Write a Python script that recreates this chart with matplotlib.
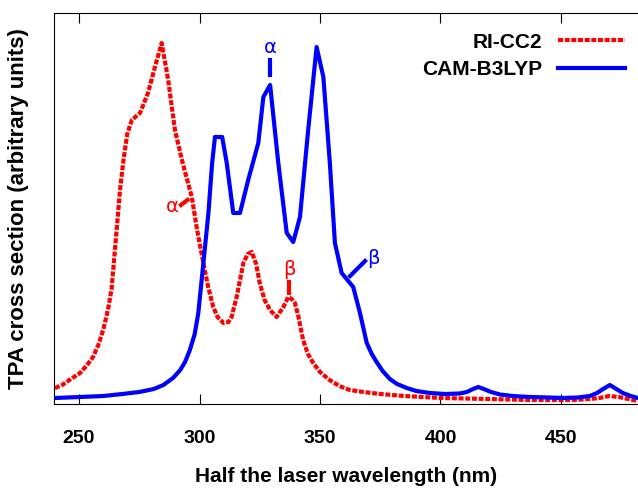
import matplotlib.pyplot as plt

# RI-CC2 spectrum (wavelength in nm, TPA cross section in arbitrary units)
ricc2_nm = [240, 243, 246, 250.4, 253, 255.8, 258, 260, 262, 263.5, 265, 267, 268.5,
            270, 271.9, 275.3, 278.6, 281.5, 284.3, 287, 289.8, 293, 296.8, 299,
            301.6, 303.5, 305.7, 307.5, 309.9, 312, 313.3, 315.5, 318.2, 320, 321.7,
            323.5, 325, 327, 329.3, 332, 334.8, 336.8, 338.3, 339.6, 341, 343, 345,
            347.2, 350, 354, 358, 362.4, 368, 375, 385, 400, 420, 437, 455, 462, 466,
            470, 474, 478, 482]
ricc2_val = [16, 19, 24, 31, 38, 47, 59, 74, 94, 115, 157, 214, 245,
             270, 284, 291, 311, 337, 361, 324, 274, 241, 207, 174,
             141, 118, 97, 87, 81, 82, 87, 108, 141, 150, 152,
             140, 121, 104, 94, 87, 97, 107, 105, 101, 88, 64, 50,
             41, 32, 24, 18, 14, 12, 10, 8, 6, 5, 4, 4, 5, 6,
             8, 7, 5, 3]

# CAM-B3LYP spectrum
cam_nm = [240, 250.4, 260, 268, 275, 281, 285, 289, 292, 294, 296, 298, 299.5,
          301.6, 303.7, 305.2, 306.4, 309.4, 311.3, 314, 316.8, 320.2, 324.4,
          326.5, 329.3, 332.7, 336.2, 338.9, 341.7, 345.1, 348.6, 351.4, 354.1,
          356.2, 359, 363.8, 366.6, 369.4, 371.5, 373.5, 376, 379, 382, 386, 390,
          395.6, 402, 408, 411, 413.5, 415.7, 418, 421, 424.7, 430, 437, 445,
          450.8, 457, 462, 465, 467.5, 470.3, 473, 475.7, 479, 482]
cam_val = [6, 7, 8, 10, 12, 15, 19, 26, 34, 42, 54, 70, 91,
           141, 191, 240, 267, 267, 241, 191, 191, 224, 261,
           307, 319, 241, 171, 162, 187, 274, 357, 327, 241,
           161, 131, 117, 91, 61, 50, 42, 33, 25, 20, 16, 13,
           11, 10, 10.5, 12, 15, 17, 15, 12, 9.5, 8, 7, 6.5,
           6, 6.5, 8, 11, 15, 19, 15, 11, 8, 6]

xticks = [250, 300, 350, 400, 450]

plt.rcParams['font.family'] = ['Liberation Sans', 'DejaVu Sans']
plt.rcParams['font.weight'] = 'bold'

fig = plt.figure(figsize=(6.38, 4.88), dpi=100)
ax = fig.add_axes([54 / 638, 84 / 488, 584 / 638, 391 / 488])

red = "#ff0000"
blue = "#0000ff"
ax.plot(ricc2_nm, ricc2_val, color=red, lw=3, linestyle=(0, (1.2, 0.4)), label="RI-CC2")
ax.plot(cam_nm, cam_val, color=blue, lw=3, label="CAM-B3LYP")

# small tags on the peaks
ax.plot([329.3, 329.3], [329, 344], color=blue, lw=3)
ax.text(329.3, 347, "α", color=blue, fontsize=14, fontweight='normal', ha='center', va='bottom',
        family='DejaVu Sans')
ax.plot([362.5, 368.7], [128, 143], color=blue, lw=3)
ax.text(369.5, 146, "β", color=blue, fontsize=14, fontweight='normal', ha='left', va='center',
        family='DejaVu Sans')
ax.plot([292.3, 295], [199, 204], color=red, lw=3)
ax.text(291.5, 198, "α", color=red, fontsize=14, fontweight='normal', ha='right', va='center',
        family='DejaVu Sans')
ax.plot([337.1, 337.1], [111, 122], color=red, lw=3)
ax.text(337.4, 125, "β", color=red, fontsize=14, fontweight='normal', ha='center', va='bottom',
        family='DejaVu Sans')

ax.set_xlim(239.6, 482)
ax.set_ylim(0, 391)
ax.set_xticks(xticks)
ax.set_yticks([])
ax.tick_params(axis='x', direction='in', top=True, length=7, width=0.8, labelsize=14, pad=19)
ax.spines['right'].set_visible(False)
for s in ['left', 'top', 'bottom']:
    ax.spines[s].set_color('black')

ax.set_xlabel("Half the laser wavelength (nm)", fontsize=15, fontweight='bold', labelpad=14)
ax.set_ylabel("TPA cross section (arbitrary units)", fontsize=16, fontweight='bold', labelpad=18)

leg = ax.legend(loc='upper right', frameon=False, markerfirst=False, fontsize=15,
                handlelength=3.2, bbox_to_anchor=(1.01, 0.998), labelspacing=0.4)

fig.savefig("out.png", dpi=100)
